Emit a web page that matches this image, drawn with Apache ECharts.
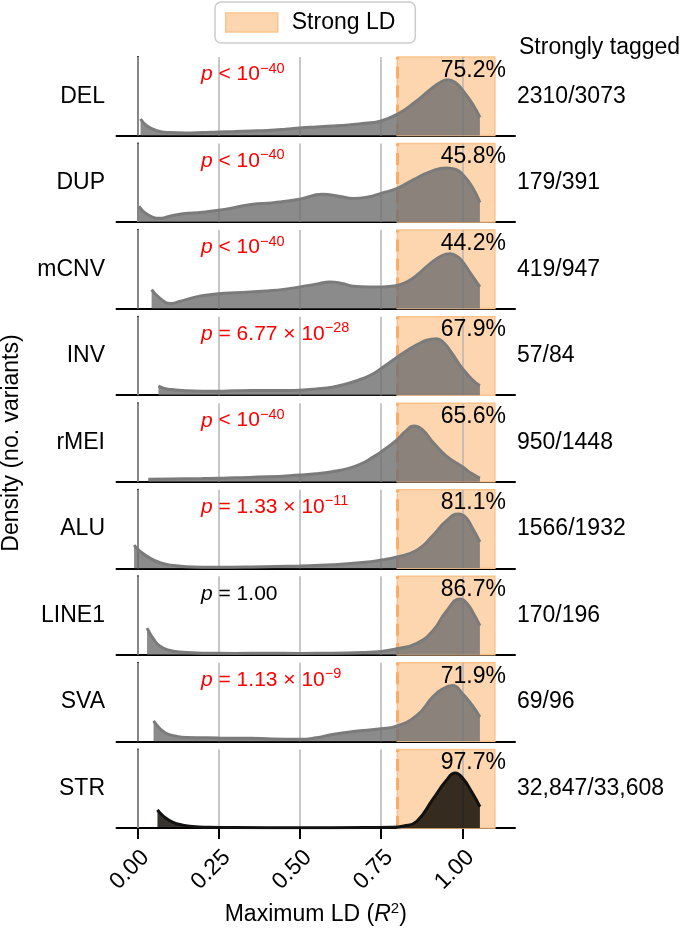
<!DOCTYPE html>
<html><head><meta charset="utf-8">
<script src="https://cdn.jsdelivr.net/npm/echarts@6/dist/echarts.min.js"></script>
<style>html,body{margin:0;padding:0;background:#fff;}#c{width:685px;height:931px;}</style>
</head><body><div id="c"></div>
<script>
// ---------- data ----------
const categories = ['DEL', 'DUP', 'mCNV', 'INV', 'rMEI', 'ALU', 'LINE1', 'SVA', 'STR'];
const percentLabels = ['75.2%', '45.8%', '44.2%', '67.9%', '65.6%', '81.1%', '86.7%', '71.9%', '97.7%'];
const countLabels = ['2310/3073', '179/391', '419/947', '57/84', '950/1448', '1566/1932', '170/196', '69/96', '32,847/33,608'];
const pRelations = ['<', '<', '<', '=', '<', '=', '=', '=', null];
const pMantissas = ['', '', '', '6.77', '', '1.33', '1.00', '1.13', null];
const pExponents = ['−40', '−40', '−40', '−28', '−40', '−11', '', '−9', null];
const pSignificant = [true, true, true, true, true, true, false, true, null];
const xTicks = [0, 0.25, 0.5, 0.75, 1.0];
const xTickLabels = ['0.00', '0.25', '0.50', '0.75', '1.00'];
const gridLineValues = [0, 0.25, 0.5, 0.75, 1.0];
const strongLDRange = [0.8, 1.1];

const delDensity = [[0.01,0.21],[0.03,0.12],[0.06,0.06],[0.1,0.037],[0.15,0.032],[0.2,0.037],[0.25,0.045],[0.3,0.05],[0.35,0.057],[0.4,0.065],[0.45,0.078],[0.5,0.095],[0.55,0.108],[0.6,0.12],[0.65,0.135],[0.7,0.155],[0.75,0.185],[0.8,0.27],[0.85,0.41],[0.9,0.58],[0.93,0.67],[0.955,0.71],[0.98,0.67],[1.0,0.58],[1.03,0.41],[1.054,0.23]];
const dupDensity = [[0.005,0.2],[0.03,0.1],[0.07,0.047],[0.1,0.075],[0.14,0.105],[0.2,0.125],[0.25,0.15],[0.3,0.185],[0.35,0.225],[0.42,0.247],[0.5,0.29],[0.57,0.354],[0.62,0.33],[0.665,0.3],[0.71,0.32],[0.75,0.366],[0.8,0.43],[0.85,0.54],[0.9,0.64],[0.952,0.69],[0.98,0.67],[1.0,0.61],[1.03,0.45],[1.054,0.25]];
const mcnvDensity = [[0.044,0.243],[0.07,0.13],[0.1,0.064],[0.13,0.09],[0.172,0.14],[0.21,0.17],[0.25,0.19],[0.3,0.203],[0.347,0.21],[0.4,0.225],[0.45,0.245],[0.5,0.276],[0.55,0.31],[0.593,0.34],[0.63,0.32],[0.664,0.285],[0.71,0.275],[0.75,0.276],[0.795,0.29],[0.83,0.34],[0.86,0.425],[0.9,0.57],[0.935,0.67],[0.962,0.7],[0.985,0.66],[1.0,0.6],[1.025,0.45],[1.054,0.276]];
const invDensity = [[0.065,0.116],[0.08,0.09],[0.1,0.073],[0.15,0.055],[0.2,0.05],[0.25,0.05],[0.3,0.055],[0.35,0.058],[0.4,0.058],[0.45,0.06],[0.5,0.064],[0.55,0.078],[0.6,0.1],[0.64,0.14],[0.68,0.19],[0.72,0.26],[0.75,0.34],[0.795,0.47],[0.83,0.57],[0.86,0.64],[0.89,0.7],[0.921,0.72],[0.94,0.68],[0.96,0.58],[0.98,0.46],[1.0,0.34],[1.03,0.2],[1.054,0.12]];
const rmeiDensity = [[0.034,0.03],[0.1,0.035],[0.2,0.04],[0.25,0.043],[0.3,0.05],[0.4,0.062],[0.5,0.085],[0.55,0.1],[0.6,0.127],[0.65,0.17],[0.69,0.23],[0.72,0.3],[0.75,0.38],[0.795,0.52],[0.825,0.64],[0.85,0.71],[0.875,0.67],[0.91,0.5],[0.95,0.33],[1.0,0.19],[1.03,0.1],[1.054,0.045]];
const aluDensity = [[-0.01,0.294],[0.01,0.21],[0.04,0.126],[0.07,0.07],[0.1,0.04],[0.15,0.02],[0.25,0.013],[0.35,0.017],[0.5,0.03],[0.6,0.045],[0.7,0.075],[0.75,0.105],[0.795,0.14],[0.86,0.23],[0.91,0.42],[0.95,0.6],[0.988,0.69],[1.01,0.65],[1.03,0.52],[1.054,0.335]];
const line1Density = [[0.03,0.34],[0.05,0.2],[0.07,0.11],[0.1,0.055],[0.13,0.035],[0.2,0.02],[0.3,0.018],[0.4,0.02],[0.5,0.018],[0.6,0.02],[0.7,0.03],[0.75,0.043],[0.795,0.073],[0.86,0.146],[0.91,0.31],[0.95,0.55],[0.993,0.71],[1.015,0.65],[1.035,0.52],[1.054,0.37]];
const svaDensity = [[0.05,0.26],[0.07,0.16],[0.09,0.1],[0.12,0.065],[0.15,0.05],[0.25,0.043],[0.35,0.038],[0.5,0.026],[0.55,0.045],[0.6,0.087],[0.665,0.125],[0.75,0.16],[0.795,0.19],[0.86,0.33],[0.91,0.57],[0.94,0.67],[0.97,0.71],[1.0,0.61],[1.03,0.46],[1.054,0.31]];
const strDensity = [[0.062,0.23],[0.08,0.15],[0.11,0.07],[0.14,0.035],[0.17,0.017],[0.22,0.008],[0.3,0.004],[0.5,0.003],[0.7,0.004],[0.78,0.008],[0.82,0.025],[0.86,0.085],[0.91,0.37],[0.95,0.6],[0.978,0.7],[1.0,0.64],[1.03,0.45],[1.054,0.27]];
const densities = [delDensity, dupDensity, mcnvDensity, invDensity, rmeiDensity, aluDensity, line1Density, svaDensity, strDensity];

// ---------- layout / style ----------
const FONT = 'Liberation Sans, Arial, Helvetica, sans-serif';
const FS = 23, PFS = 21, SFS = 14.5;
const LEFT = 116.5, WIDTH = 398.5, TOP0 = 57, PITCH = 86.55, H = 78.5;
const X_MIN = -0.064, X_MAX = 1.162;
const ORANGE = '#fdd5ae', ORANGE_EDGE = '#fbc38c', DASH = '#fbad67';

const grids = [], xAxes = [], yAxes = [], series = [], graphics = [];
categories.forEach((cat, i) => {
  const top = TOP0 + PITCH * i;
  const last = i === categories.length - 1;
  grids.push({ left: LEFT, top: top, width: WIDTH, height: H });
  xAxes.push({
    type: 'value', gridIndex: i, min: X_MIN, max: X_MAX,
    axisLine: { show: true, onZero: false, lineStyle: { color: '#000', width: 2 } },
    axisTick: { show: last, customValues: xTicks, length: 11, lineStyle: { color: '#000', width: 2 } },
    axisLabel: {
      show: last, customValues: xTicks, rotate: 45, margin: 18, verticalAlign: 'top',
      fontSize: FS, color: '#000', fontFamily: FONT,
      formatter: v => { const k = xTicks.findIndex(t => Math.abs(t - v) < 1e-9); return k >= 0 ? xTickLabels[k] : ''; }
    },
    splitLine: { show: false },
    name: last ? 'Maximum LD ({i|R}{s|2})' : '',
    nameLocation: 'middle', nameGap: 73,
    nameTextStyle: {
      fontSize: FS, color: '#000', fontFamily: FONT, lineHeight: 28,
      rich: { i: { fontStyle: 'italic', fontSize: FS, fontFamily: FONT, lineHeight: 28 },
              s: { fontSize: 15, fontFamily: FONT, verticalAlign: 'top', lineHeight: 16 } }
    }
  });
  yAxes.push({
    type: 'value', gridIndex: i, min: 0, max: 1,
    axisLine: { show: true, lineStyle: { color: '#000', width: 2 } },
    axisTick: { show: false }, axisLabel: { show: false }, splitLine: { show: false }
  });
  const isStr = cat === 'STR';
  series.push({
    type: 'line', xAxisIndex: i, yAxisIndex: i, data: densities[i],
    smooth: 0.5, symbol: 'none', showSymbol: false, z: 3,
    lineStyle: { color: isStr ? '#111' : '#7b7b7b', width: 3 },
    areaStyle: { color: isStr ? 'rgba(10,5,0,0.82)' : 'rgba(110,110,110,0.8)', opacity: 1 },
    markArea: {
      silent: true, z: 1,
      itemStyle: { color: ORANGE, borderColor: ORANGE_EDGE, borderWidth: 1.5 },
      data: [[{ xAxis: strongLDRange[0] }, { xAxis: strongLDRange[1] }]]
    },
    markLine: {
      silent: true, z: 2, symbol: 'none', label: { show: false },
      data: gridLineValues.map(v => ({ xAxis: v, lineStyle: { color: '#b4b4b4', width: 1.5, type: 'solid' } }))
        .concat([{ xAxis: strongLDRange[0], lineStyle: { color: DASH, width: 3, type: [12, 7] } }])
    },
    animation: false
  });
  graphics.push({ type: 'text', z: 100, x: 105, y: top + H / 2, style: { text: cat, fontSize: FS, fontFamily: FONT, fill: '#000', textAlign: 'right', textVerticalAlign: 'middle' } });
  graphics.push({ type: 'text', z: 100, x: 506, y: top + 13.4, style: { text: percentLabels[i], fontSize: FS, fontFamily: FONT, fill: '#000', textAlign: 'right', textVerticalAlign: 'middle' } });
  graphics.push({ type: 'text', z: 100, x: 517, y: top + H / 2, style: { text: countLabels[i], fontSize: FS, fontFamily: FONT, fill: '#000', textAlign: 'left', textVerticalAlign: 'middle' } });
  if (pRelations[i]) {
    let t = '{i|p} ' + pRelations[i] + ' ';
    if (pMantissas[i]) t += pMantissas[i];
    if (pExponents[i]) t += (pMantissas[i] ? ' × ' : '') + '10{s|' + pExponents[i] + '}';
    const col = pSignificant[i] ? '#ff0000' : '#000000';
    graphics.push({ type: 'text', z: 100, x: 201, y: top + 17.5, style: {
      text: t, fontSize: PFS, fontFamily: FONT, fill: col, lineHeight: 27,
      textAlign: 'left', textVerticalAlign: 'middle',
      rich: { i: { fontStyle: 'italic', fontSize: PFS, fontFamily: FONT, fill: col, lineHeight: 27 },
              s: { fontSize: SFS, fontFamily: FONT, fill: col, verticalAlign: 'top', lineHeight: 15 } }
    } });
  }
});
series.push({ type: 'line', name: 'Strong LD', xAxisIndex: 0, yAxisIndex: 0, data: [], itemStyle: { color: ORANGE }, lineStyle: { color: ORANGE } });

graphics.push({ type: 'text', z: 100, x: 519, y: 48, style: { text: 'Strongly tagged', fontSize: FS, fontFamily: FONT, fill: '#000', textAlign: 'left', textVerticalAlign: 'middle' } });
graphics.push({ type: 'text', z: 100, x: 12, y: 443, rotation: Math.PI / 2, style: { text: 'Density (no. variants)', fontSize: FS, fontFamily: FONT, fill: '#000', textAlign: 'center', textVerticalAlign: 'middle' } });

const chart = echarts.init(document.getElementById('c'), null, { renderer: 'canvas' });
chart.setOption({
  animation: false,
  backgroundColor: '#fff',
  grid: grids, xAxis: xAxes, yAxis: yAxes, series: series,
  legend: {
    data: [{ name: 'Strong LD', icon: 'rect', itemStyle: { color: ORANGE, borderColor: ORANGE_EDGE, borderWidth: 1.5 } }],
    left: 215, top: 2, itemWidth: 52, itemHeight: 19, selectedMode: false,
    padding: [9, 20, 9, 10],
    backgroundColor: '#fff', borderColor: '#cccccc', borderWidth: 1.5, borderRadius: 6,
    textStyle: { fontSize: FS, color: '#000', fontFamily: FONT, padding: [0, 0, 0, 9] }
  },
  graphic: { elements: graphics }
});
</script></body></html>
